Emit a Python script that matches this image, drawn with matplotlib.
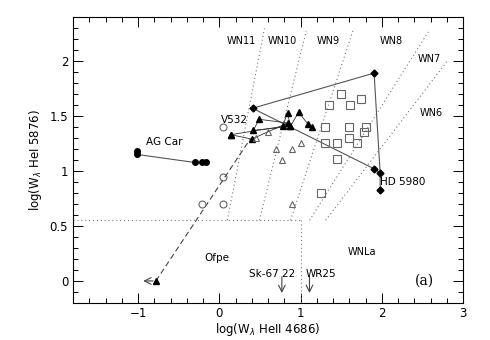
import matplotlib
matplotlib.use("Agg")
import matplotlib.pyplot as plt
from matplotlib.ticker import MultipleLocator

# ---- data ----
# HD 5980 (filled diamonds), polyline order
hd_x = [1.905, 0.41, 1.905, 1.98, 1.98]
hd_y = [1.02, 1.57, 1.89, 0.98, 0.83]

# AG Car (filled circles)
ag_x = [-1.01, -1.01, -0.30, -0.215, -0.165]
ag_y = [1.18, 1.15, 1.077, 1.077, 1.077]

# V532 (filled triangles), two connecting paths
v1_x = [0.14, 0.78, 0.84, 0.876, 0.975, 1.09, 1.14]
v1_y = [1.33, 1.405, 1.53, 1.405, 1.535, 1.427, 1.40]
v2_x = [0.14, 0.40, 0.84, 0.49, 0.42, 0.876]
v2_y = [1.33, 1.29, 1.436, 1.47, 1.37, 1.405]

# Open squares
sq_x = [1.50, 1.35, 1.605, 1.75, 1.30, 1.60, 1.80, 1.78, 1.60, 1.30, 1.45, 1.70, 1.45, 1.255]
sq_y = [1.70, 1.60, 1.60, 1.65, 1.40, 1.40, 1.40, 1.35, 1.30, 1.25, 1.25, 1.25, 1.11, 0.80]

# Open triangles
ot_x = [0.45, 0.60, 1.00, 0.70, 0.90, 0.77, 0.90]
ot_y = [1.30, 1.355, 1.255, 1.20, 1.20, 1.10, 0.70]

# Open circles
oc_x = [0.04, 0.04, -0.21, 0.04]
oc_y = [1.40, 0.944, 0.70, 0.70]

# Dashed track (triangle at lower-left to V532)
dash_x = [-0.78, 0.38]
dash_y = [0.0, 1.29]

# Subtype boundary lines (bottom, top)
bnd_x0 = [0.099, 0.494, 0.877, 1.111, 1.309]
bnd_x1 = [0.556, 1.070, 1.654, 2.572, 2.80]
bnd_y0 = [0.552, 0.552, 0.552, 0.552, 0.552]
bnd_y1 = [2.296, 2.274, 2.296, 2.265, 1.994]

wn_labels = ["WN11", "WN10", "WN9", "WN8", "WN7", "WN6"]
wn_x = [0.27, 0.78, 1.34, 2.12, 2.59, 2.61]
wn_y = [2.18, 2.18, 2.18, 2.18, 2.02, 1.53]

# ---- figure ----
fig = plt.figure(figsize=(4.9, 3.4), dpi=100)
ax = fig.add_axes([0.149, 0.109, 0.796, 0.841])

dot_kw = dict(color="#777777", lw=0.8, ls=(0, (1, 2.5)))
for x0, x1, y0, y1 in zip(bnd_x0, bnd_x1, bnd_y0, bnd_y1):
    ax.plot([x0, x1], [y0, y1], **dot_kw)
ax.plot([-1.8, 1.0], [0.552, 0.552], **dot_kw)
ax.plot([1.0, 1.0], [0.552, -0.2], **dot_kw)

ax.plot(dash_x, dash_y, color="#444444", lw=0.8, ls=(0, (5, 3)))

ax.plot(hd_x, hd_y, color="#555555", lw=0.8, zorder=2)
ax.plot([hd_x[0], hd_x[3]], [hd_y[0], hd_y[3]], color="#555555", lw=0.8, zorder=2)
ax.plot(hd_x, hd_y, ls="none", marker="D", ms=3.5, color="black", zorder=3)

ax.plot(ag_x[1:3], ag_y[1:3], color="#555555", lw=0.8)
ax.plot(ag_x, ag_y, ls="none", marker="o", ms=4, color="black")

ax.plot(v1_x, v1_y, color="#333333", lw=0.6)
ax.plot(v2_x, v2_y, color="#333333", lw=0.6)
ax.plot(v1_x + v2_x, v1_y + v2_y, ls="none", marker="^", ms=3.8, color="black")
ax.plot([dash_x[0]], [dash_y[0]], ls="none", marker="^", ms=3.8, color="black")

ax.plot(sq_x, sq_y, ls="none", marker="s", ms=5.5, mfc="none", mec="#666666", mew=0.8)
ax.plot(ot_x, ot_y, ls="none", marker="^", ms=4.5, mfc="none", mec="#666666", mew=0.8)
ax.plot(oc_x, oc_y, ls="none", marker="o", ms=5, mfc="none", mec="#666666", mew=0.8)

arr = dict(arrowstyle="->", color="#444444", lw=0.8, mutation_scale=12)
ax.annotate("", xy=(-0.97, 0.0), xytext=(-0.78, 0.0), arrowprops=arr)
ax.annotate("", xy=(0.77, -0.135), xytext=(0.77, 0.065), arrowprops=arr)
ax.annotate("", xy=(1.11, -0.135), xytext=(1.11, 0.065), arrowprops=arr)

fs = 7.5
for t, x, y in zip(wn_labels, wn_x, wn_y):
    ax.text(x, y, t, fontsize=7, ha="center", va="center")
ax.text(-0.68, 1.26, "AG Car", fontsize=fs, ha="center", va="center")
ax.text(0.185, 1.46, "V532", fontsize=fs, ha="center", va="center")
ax.text(2.26, 0.90, "HD 5980", fontsize=fs, ha="center", va="center")
ax.text(-0.03, 0.21, "Ofpe", fontsize=fs, ha="center", va="center")
ax.text(1.75, 0.26, "WNLa", fontsize=7, ha="center", va="center")
ax.text(0.65, 0.065, "Sk-67 22", fontsize=fs, ha="center", va="center")
ax.text(1.25, 0.065, "WR25", fontsize=fs, ha="center", va="center")
ax.text(2.53, 0.0, "(a)", fontsize=10, ha="center", va="center", family="DejaVu Serif")

ax.set_xlim(-1.8, 3.0)
ax.set_ylim(-0.2, 2.4)
ax.xaxis.set_minor_locator(MultipleLocator(0.2))
ax.yaxis.set_minor_locator(MultipleLocator(0.1))
ax.set_xticks([-1, 0, 1, 2, 3])
ax.set_xticklabels(["−1", "0", "1", "2", "3"])
ax.set_yticks([0, 0.5, 1, 1.5, 2])
ax.set_yticklabels(["0", "0.5", "1", "1.5", "2"])
ax.tick_params(which="both", direction="in", top=True, right=True, labelsize=8.5, width=0.7)
ax.tick_params(which="major", length=7)
ax.tick_params(which="minor", length=3.5)
ax.tick_params(axis="x", pad=3)
for s in ax.spines.values():
    s.set_linewidth(0.8)
ax.set_xlabel(r"log(W$_\lambda$ HeII 4686)", fontsize=8.5, labelpad=0.5)
ax.set_ylabel(r"log(W$_\lambda$ HeI 5876)", fontsize=8.5, labelpad=4)

fig.savefig("out.png", dpi=100)
